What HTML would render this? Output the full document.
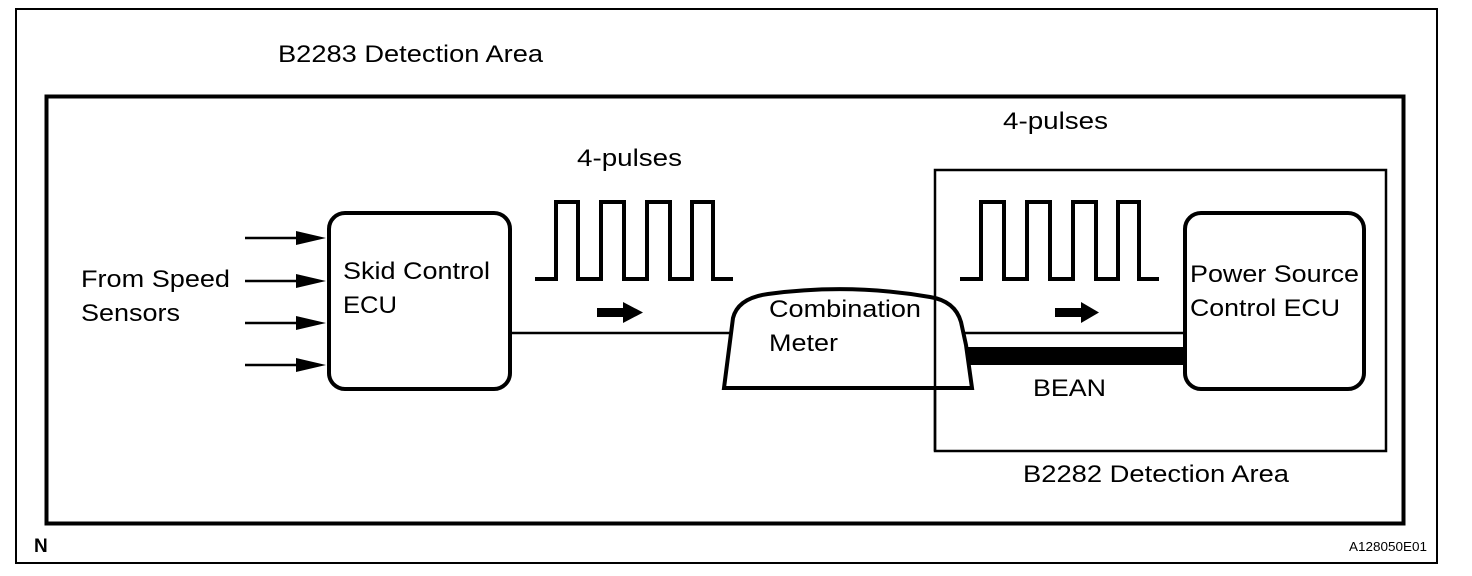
<!DOCTYPE html>
<html><head><style>
html,body{margin:0;padding:0;background:#fff;}
svg{display:block}
text{font-family:"Liberation Sans",Arial,sans-serif;font-size:24px;fill:#000}
</style></head><body>
<svg width="1472" height="576" viewBox="0 0 1472 576" xmlns="http://www.w3.org/2000/svg">
<rect x="16" y="9" width="1421" height="554" fill="none" stroke="#000" stroke-width="2"/>
<rect x="46.5" y="96.5" width="1357" height="427" fill="none" stroke="#000" stroke-width="4"/>
<rect x="935" y="170" width="451" height="281" fill="none" stroke="#000" stroke-width="2.5"/>
<text x="278" y="62" textLength="265" lengthAdjust="spacingAndGlyphs">B2283 Detection Area</text>
<text x="577" y="166" textLength="105" lengthAdjust="spacingAndGlyphs">4-pulses</text>
<text x="1003" y="129" textLength="105" lengthAdjust="spacingAndGlyphs">4-pulses</text>
<text x="1023" y="482" textLength="266" lengthAdjust="spacingAndGlyphs">B2282 Detection Area</text>
<text x="81" y="287" textLength="149" lengthAdjust="spacingAndGlyphs">From Speed</text>
<text x="81" y="321" textLength="99" lengthAdjust="spacingAndGlyphs">Sensors</text>
<g stroke="#000" stroke-width="2.5">
<line x1="245" y1="238" x2="310" y2="238"/><line x1="245" y1="281" x2="310" y2="281"/>
<line x1="245" y1="323" x2="310" y2="323"/><line x1="245" y1="365" x2="310" y2="365"/>
</g>
<g fill="#000">
<polygon points="296,231 326,238 296,245"/><polygon points="296,274 326,281 296,288"/>
<polygon points="296,316 326,323 296,330"/><polygon points="296,358 326,365 296,372"/>
</g>
<rect x="329" y="213" width="181" height="176" rx="16" fill="#fff" stroke="#000" stroke-width="4"/>
<text x="343" y="279" textLength="147" lengthAdjust="spacingAndGlyphs">Skid Control</text>
<text x="343" y="313" textLength="54" lengthAdjust="spacingAndGlyphs">ECU</text>
<line x1="510" y1="333" x2="735" y2="333" stroke="#000" stroke-width="2.5"/>
<polyline points="535,279 556,279 556,202 578,202 578,279 601,279 601,202 624,202 624,279 647,279 647,202 670,202 670,279 692,279 692,202 713,202 713,279 733,279" fill="none" stroke="#000" stroke-width="4"/>
<rect x="597" y="308" width="28" height="9" fill="#000"/><polygon points="623,302 643,312.5 623,323" fill="#000"/>
<line x1="960" y1="333" x2="1185" y2="333" stroke="#000" stroke-width="2.5"/>
<rect x="968" y="347" width="217" height="18" fill="#000"/>
<polyline points="960,279 981,279 981,202 1004,202 1004,279 1027,279 1027,202 1050,202 1050,279 1073,279 1073,202 1096,202 1096,279 1118,279 1118,202 1139,202 1139,279 1159,279" fill="none" stroke="#000" stroke-width="4"/>
<rect x="1055" y="308" width="28" height="9" fill="#000"/><polygon points="1081,302 1099,312.5 1081,323" fill="#000"/>
<path d="M724,388 L733,318 Q738,298 768,294 Q850,283 930,297 Q955,301 961,322 L966,345 L972,388 Z" fill="#fff" stroke="#000" stroke-width="4"/>
<line x1="935" y1="298" x2="935" y2="451" stroke="#000" stroke-width="2.5"/>
<text x="769" y="317" textLength="152" lengthAdjust="spacingAndGlyphs">Combination</text>
<text x="769" y="351" textLength="69" lengthAdjust="spacingAndGlyphs">Meter</text>
<rect x="1185" y="213" width="179" height="176" rx="16" fill="#fff" stroke="#000" stroke-width="4"/>
<text x="1190" y="282" textLength="169" lengthAdjust="spacingAndGlyphs">Power Source</text>
<text x="1190" y="316" textLength="150" lengthAdjust="spacingAndGlyphs">Control ECU</text>
<text x="1033" y="396" textLength="73" lengthAdjust="spacingAndGlyphs">BEAN</text>
<text x="34" y="552" style="font-size:19px;font-weight:bold">N</text>
<text x="1349" y="551" style="font-size:13px" textLength="78" lengthAdjust="spacingAndGlyphs">A128050E01</text>
</svg>
</body></html>
